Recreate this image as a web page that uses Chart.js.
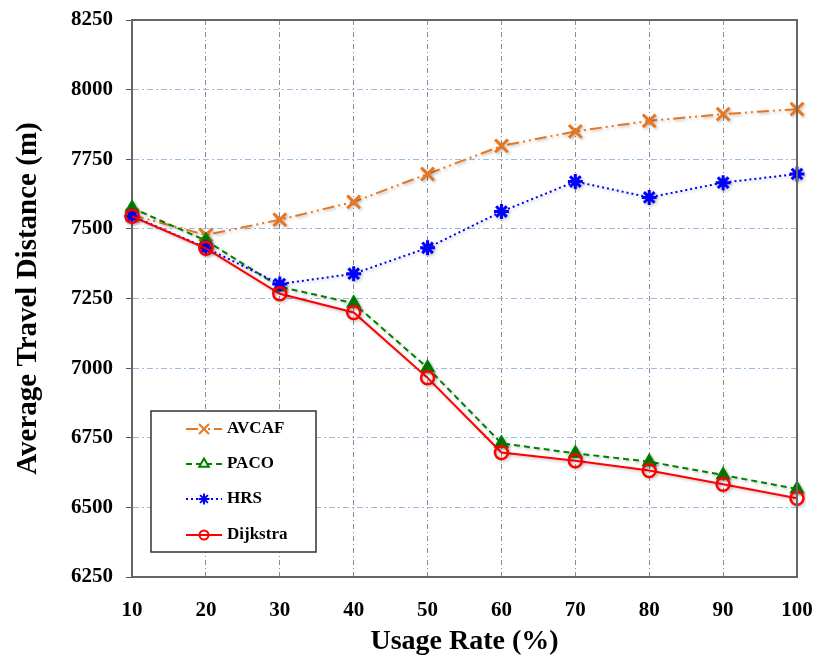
<!DOCTYPE html>
<html>
<head>
<meta charset="utf-8">
<script src="https://cdn.jsdelivr.net/npm/chart.js@4/dist/chart.umd.min.js"></script>
<style>
  html, body { margin: 0; padding: 0; background: #fff; }
  #wrap { width: 816px; height: 661px; }
</style>
</head>
<body>
<div id="wrap"><canvas id="c" width="816" height="661"></canvas></div>
<script>
const categories = [10, 20, 30, 40, 50, 60, 70, 80, 90, 100];
const avcaf    = [7550, 7478, 7533, 7597, 7697, 7798, 7850, 7888, 7912, 7930];
const paco     = [7575, 7458, 7292, 7233, 7001, 6730, 6694, 6664, 6616, 6566];
const hrs      = [7546, 7432, 7302, 7339, 7432, 7562, 7670, 7613, 7666, 7697];
const dijkstra = [7545, 7430, 7267, 7200, 6965, 6697, 6667, 6632, 6583, 6533];
const yTicks = [6250, 6500, 6750, 7000, 7250, 7500, 7750, 8000, 8250];
const legendOrder = ['AVCAF', 'PACO', 'HRS', 'Dijkstra'];

const SERIF = '"Liberation Serif", "Times New Roman", serif';

const datasets = [
  { label: 'AVCAF', data: avcaf, borderColor: '#E8761E', backgroundColor: '#E8761E',
    borderWidth: 2, borderDash: [12, 4, 2, 4, 2, 4], pointStyle: 'crossRot',
    pointRadius: 9, pointBorderWidth: 3, order: 3 },
  { label: 'PACO', data: paco, borderColor: '#008000', backgroundColor: '#008000',
    borderWidth: 2, borderDash: [6, 4], pointStyle: 'triangle',
    pointRadius: 7.5, pointBorderWidth: 1.5, order: 2 },
  { label: 'HRS', data: hrs, borderColor: '#0000FF', backgroundColor: '#0000FF',
    borderWidth: 2, borderDash: [2, 3], pointStyle: 'star',
    pointRadius: 7.5, pointBorderWidth: 3, order: 1 },
  { label: 'Dijkstra', data: dijkstra, borderColor: '#FF0000', backgroundColor: 'rgba(0,0,0,0)',
    borderWidth: 2, borderDash: [], pointStyle: 'circle',
    pointRadius: 6.5, pointBorderWidth: 2.5, order: 0 }
];
datasets.forEach(d => { d.tension = 0; d.fill = false; d.pointBackgroundColor = d.label === 'Dijkstra' ? 'rgba(0,0,0,0)' : d.borderColor; d.pointBorderColor = d.borderColor; });

const shadowPlugin = {
  id: 'shadow',
  beforeDatasetsDraw(chart) {
    const ctx = chart.ctx;
    ctx.save();
    ctx.shadowColor = 'rgba(0,0,0,0.25)';
    ctx.shadowBlur = 3;
    ctx.shadowOffsetX = 1.5;
    ctx.shadowOffsetY = 1.5;
  },
  afterDatasetsDraw(chart) { chart.ctx.restore(); }
};

const framePlugin = {
  id: 'frame',
  afterDraw(chart) {
    const ctx = chart.ctx, a = chart.chartArea;
    ctx.save();
    ctx.strokeStyle = '#666';
    ctx.lineWidth = 2;
    ctx.beginPath();
    ctx.moveTo(a.left, a.top); ctx.lineTo(a.right, a.top); ctx.lineTo(a.right, a.bottom);
    ctx.stroke();
    // legend box
    const bx = 151, by = 411, bw = 165, bh = 141;
    ctx.fillStyle = '#fff';
    ctx.fillRect(bx, by, bw, bh);
    ctx.strokeStyle = '#333';
    ctx.lineWidth = 1.5;
    ctx.strokeRect(bx, by, bw, bh);
    const ys = [429, 464, 499, 535];
    legendOrder.forEach((name, i) => {
      const ds = chart.data.datasets.find(d => d.label === name);
      const y = ys[i];
      ctx.save();
      ctx.strokeStyle = ds.borderColor;
      ctx.lineWidth = ds.borderWidth;
      ctx.setLineDash(ds.borderDash || []);
      ctx.beginPath(); ctx.moveTo(186, y); ctx.lineTo(222, y); ctx.stroke();
      ctx.setLineDash([]);
      ctx.strokeStyle = ds.pointBorderColor;
      ctx.fillStyle = ds.pointStyle === 'triangle' ? '#fff' : ds.pointBackgroundColor;
      Chart.helpers.drawPoint(ctx, { pointStyle: ds.pointStyle, radius: ds.pointRadius - 2, borderWidth: ds.pointBorderWidth, rotation: 0 }, 204, y);
      ctx.restore();
      ctx.fillStyle = '#000';
      ctx.font = 'bold 17px ' + SERIF;
      ctx.textBaseline = 'middle';
      ctx.textAlign = 'left';
      ctx.fillText(name, 227, y);
    });
    ctx.restore();
  }
};

new Chart(document.getElementById('c'), {
  type: 'line',
  data: { labels: categories, datasets },
  plugins: [shadowPlugin, framePlugin],
  options: {
    responsive: false,
    animation: false,
    layout: { padding: { top: 20, right: 19, left: 0, bottom: 0 } },
    plugins: { legend: { display: false }, tooltip: { enabled: false } },
    scales: {
      x: {
        type: 'category',
        offset: false,
        afterFit(s) { s.height = 84; s.paddingLeft = 0; s.paddingRight = 0; },
        grid: { color: '#8a8a8a', lineWidth: 1, drawTicks: false },
        border: { display: true, color: '#666', width: 2, dash: [5, 3, 1, 3] },
        ticks: { color: '#000', padding: 21, maxRotation: 0, font: { family: SERIF, size: 21, weight: 'bold' } },
        title: { display: true, text: 'Usage Rate (%)', color: '#000',
          padding: { top: 0, bottom: 2 }, font: { family: SERIF, size: 28, weight: 'bold' } }
      },
      y: {
        min: 6250, max: 8250,
        afterFit(s) { s.width = 132; s.paddingTop = 0; s.paddingBottom = 0; },
        afterBuildTicks(s) { s.ticks = yTicks.map(v => ({ value: v })); },
        grid: { color: '#9DBAE0', lineWidth: 1, drawTicks: true, tickLength: 6, tickColor: '#555', tickBorderDash: [] },
        border: { display: true, color: '#666', width: 2, dash: [6, 3, 2, 3] },
        ticks: { color: '#000', padding: 13, font: { family: SERIF, size: 21, weight: 'bold' },
          callback: (v) => String(v) },
        title: { display: true, text: 'Average Travel Distance (m)', color: '#000',
          padding: { top: 11, bottom: 0 }, font: { family: SERIF, size: 29, weight: 'bold' } }
      }
    }
  }
});
</script>
</body>
</html>
